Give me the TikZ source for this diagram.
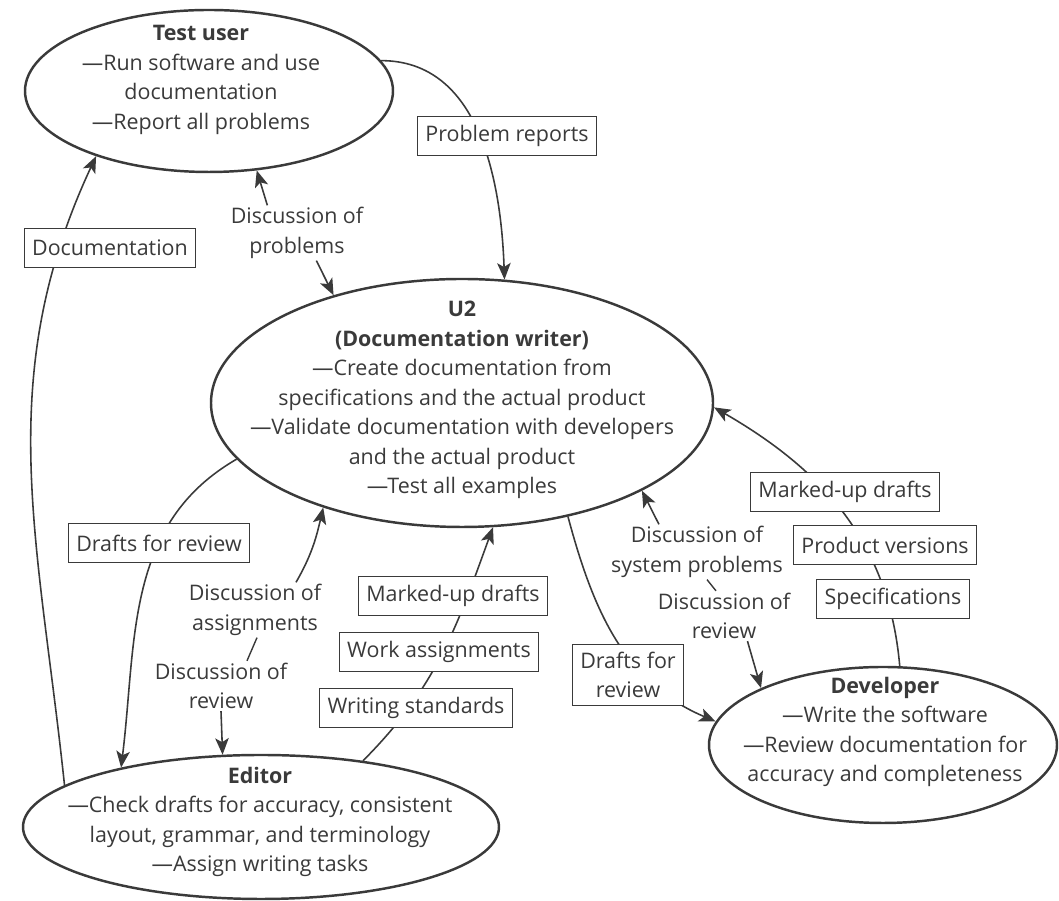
\documentclass[tikz,border=0pt]{standalone}
\usepackage{fontspec}
\setmainfont{Open Sans}
\usepackage{xcolor}
\usetikzlibrary{
  positioning,
  shapes.geometric,
  arrows.meta
}
\definecolor{ink}{HTML}{3A3A3A}

\begin{document}
\begin{tikzpicture}[
    font=\fontsize{12.2}{16.8}\selectfont,
    every node/.style={text=ink},
    role/.style={ellipse, draw=ink, line width=1.4pt, inner sep=0pt},
    roletext/.style={align=center, inner sep=0pt},
    flowbox/.style={draw=ink, line width=0.75pt, fill=white, inner xsep=4.5pt,
      inner ysep=0pt, minimum height=0.77cm, align=center},
    note/.style={align=center, inner sep=1pt},
    flow/.style={draw=ink, line width=0.9pt,
      -{Stealth[length=3.3mm, width=2.7mm, inset=0.8mm]}},
    link/.style={draw=ink, line width=0.8pt}
  ]
    \useasboundingbox (0,0) rectangle (21.18,18.02);

    % the four roles
    \node[role, minimum width=7.36cm, minimum height=3.24cm] (tu) at (4.18,16.2) {};
    \node[roletext] (tu-text) at (4.02,16.42)
        {\textbf{Test user}\\---Run software and use\\documentation\\---Report all problems};

    \node[role, minimum width=10.04cm, minimum height=4.96cm] (u2) at (9.24,9.96) {};
    \node[roletext] (u2-text) at (9.24,10.02)
        {\textbf{U2}\\\textbf{(Documentation writer)}\\---Create documentation from\\specifications and the actual product\\---Validate documentation with developers\\and the actual product\\---Test all examples};

    \node[role, minimum width=9.52cm, minimum height=2.88cm] (ed) at (5.22,1.48) {};
    \node[roletext] (ed-text) at (5.2,1.58)
        {\textbf{Editor}\\---Check drafts for accuracy, consistent\\layout, grammar, and terminology\\---Assign writing tasks};

    \node[role, minimum width=6.96cm, minimum height=3.12cm] (dev) at (17.66,3.12) {};
    \node[roletext] (dev-text) at (17.7,3.38)
        {\textbf{Developer}\\---Write the software\\---Review documentation for\\accuracy and completeness};

    % free labels
    \node[note] (dp) at (5.94,13.36) {Discussion of\\problems};
    \node[note] (da) at (5.1,5.82) {Discussion of\\assignments};
    \node[note] (dr) at (4.42,4.3) {Discussion of\\review};
    \node[note] (dsp) at (13.94,6.98) {Discussion of\\system problems};
    \node[note] (drr) at (14.48,5.7) {Discussion of\\review};

    % connectors
    \draw[flow] (ed.168) to[out=96, in=245] (tu.210);
    \draw[flow] (tu.10) to[out=0, in=92] (u2.71);
    \draw[flow] (dp.137) -- (tu.301);
    \draw[flow] (dp.305) -- (u2.140);
    \draw[flow] (u2.194) to[out=210, in=83] (ed.157);
    \draw[flow] (da.34) to[out=60, in=257] (u2.217);
    \draw[flow] (dr.south) -- (ed.118);
    \draw[link] ([xshift=0.04cm]da.south) -- ([xshift=0.52cm]dr.north);
    \draw[flow] (ed.33) to[out=45, in=250] (u2.284);
    \draw[flow] (u2.313) to[out=285, in=157] (dev.172);
    \draw[flow] (dsp.144) -- (u2.334);
    \draw[flow] (drr.313) -- (dev.155);
    \draw[link] ([xshift=0.2cm]dsp.south) -- ([xshift=-0.16cm]drr.north);
    \draw[flow] (dev.78) to[out=95, in=-30] (u2.-1);

    % labels on the connectors
    \node[flowbox] (reports) at (10.14,15.3) {Problem reports};
    \node[flowbox] (docs) at (2.2,13.06) {Documentation};
    \node[flowbox] (drafts-ed) at (3.18,7.16) {Drafts for review};
    \node[flowbox] (markup-ed) at (9.06,6.1) {Marked-up drafts};
    \node[flowbox] (work) at (8.78,4.98) {Work assignments};
    \node[flowbox] (standards) at (8.32,3.86) {Writing standards};
    \node[flowbox, minimum height=1.22cm] (drafts-dev) at (12.56,4.52) {Drafts for\\review};
    \node[flowbox] (markup-dev) at (16.9,8.18) {Marked-up drafts};
    \node[flowbox] (versions) at (17.7,7.12) {Product versions};
    \node[flowbox] (specs) at (17.86,6.04) {Specifications};
\end{tikzpicture}
\end{document}
